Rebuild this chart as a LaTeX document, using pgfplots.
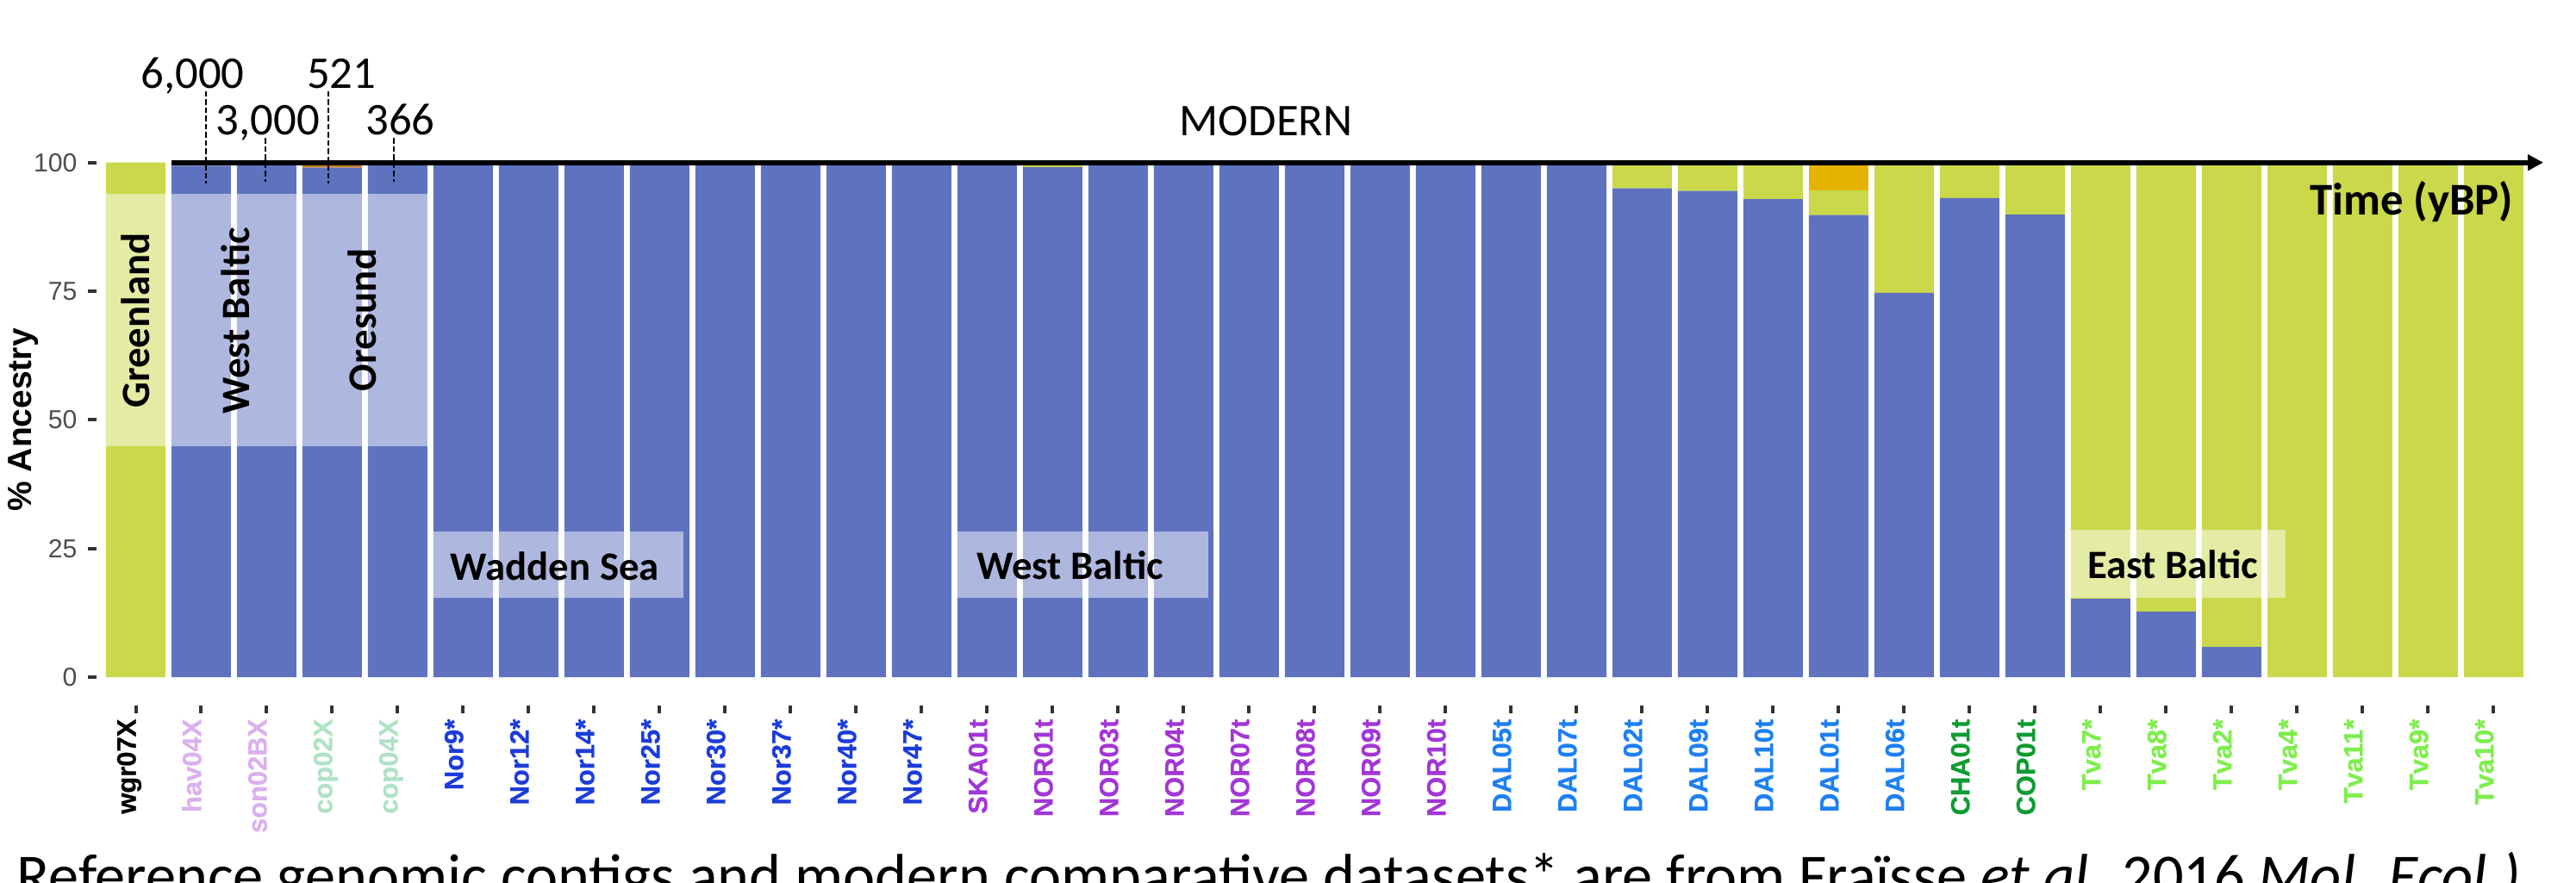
\documentclass[border=0pt]{standalone}
\usepackage{pgfplots}
\pgfplotsset{compat=1.18}
\usepackage{pgfplotstable}
\usetikzlibrary{arrows.meta}
\usepackage{fontspec}
\setmainfont{Carlito}
\newfontfamily\arialf{Liberation Sans}
\newfontfamily\xlabf{Liberation Sans}[UprightFont=* Bold, FakeBold=0.6]
\definecolor{cblue}{HTML}{5E72BF}
\definecolor{cyel}{HTML}{CAD84A}
\definecolor{cora}{HTML}{E6B400}
\definecolor{cbrn}{HTML}{C97E2C}
\definecolor{lpur}{HTML}{DAB0EE}
\definecolor{lgrn}{HTML}{B0E2C4}
\definecolor{nblue}{HTML}{1C3CD8}
\definecolor{npur}{HTML}{A236D6}
\definecolor{dblue}{HTML}{1E80F0}
\definecolor{dgrn}{HTML}{0E9C32}
\definecolor{tgrn}{HTML}{7EEE4C}
\definecolor{tickgray}{HTML}{333333}
\definecolor{labgray}{HTML}{4D4D4D}

\newcommand{\xl}[2]{\textcolor{#1}{#2}\hspace{0.7mm}{\color{tickgray}\rule[-0.2mm]{0.9mm}{0.4mm}}}

\pgfplotstableread{
x blue yel ora brn
0 0 100 0 0
1 99.4 0 0 0.6
2 100 0 0 0
3 99.0 0 0 1.0
4 100 0 0 0
5 100 0 0 0
6 100 0 0 0
7 100 0 0 0
8 100 0 0 0
9 100 0 0 0
10 100 0 0 0
11 100 0 0 0
12 100 0 0 0
13 100 0 0 0
14 99.1 0.9 0 0
15 100 0 0 0
16 100 0 0 0
17 100 0 0 0
18 100 0 0 0
19 100 0 0 0
20 100 0 0 0
21 100 0 0 0
22 100 0 0 0
23 95.0 5.0 0 0
24 94.5 5.5 0 0
25 92.9 7.1 0 0
26 89.8 4.8 5.4 0
27 74.7 25.3 0 0
28 93.1 6.9 0 0
29 89.9 10.1 0 0
30 15.2 84.8 0 0
31 12.75 87.25 0 0
32 5.9 94.1 0 0
33 0 100 0 0
34 0 100 0 0
35 0 100 0 0
36 0 100 0 0
}\anc

\pgfplotsset{geom/.style={
  at={(11.19mm,23.8mm)}, anchor=south west,
  scale only axis, width=282.7mm, height=59.73mm,
  xmin=-0.6, xmax=36.6, ymin=0, ymax=100, clip=false}}

\begin{document}
\begin{tikzpicture}
\begin{axis}[
  geom,
  ybar stacked, bar width=0.908,
  axis line style={draw=none},
  tick pos=left, tick align=outside,
  major tick length=1mm,
  tick style={tickgray, line width=0.4mm},
  xtick={0,...,36},
  xtick style={draw=none},
  xticklabels={
    \xl{black}{wgr07X},\xl{lpur}{hav04X},\xl{lpur}{son02BX},
    \xl{lgrn}{cop02X},\xl{lgrn}{cop04X},
    \xl{nblue}{Nor9*},\xl{nblue}{Nor12*},\xl{nblue}{Nor14*},\xl{nblue}{Nor25*},
    \xl{nblue}{Nor30*},\xl{nblue}{Nor37*},\xl{nblue}{Nor40*},\xl{nblue}{Nor47*},
    \xl{npur}{SKA01t},\xl{npur}{NOR01t},\xl{npur}{NOR03t},\xl{npur}{NOR04t},
    \xl{npur}{NOR07t},\xl{npur}{NOR08t},\xl{npur}{NOR09t},\xl{npur}{NOR10t},
    \xl{dblue}{DAL05t},\xl{dblue}{DAL07t},\xl{dblue}{DAL02t},\xl{dblue}{DAL09t},
    \xl{dblue}{DAL10t},\xl{dblue}{DAL01t},\xl{dblue}{DAL06t},
    \xl{dgrn}{CHA01t},\xl{dgrn}{COP01t},
    \xl{tgrn}{Tva7*},\xl{tgrn}{Tva8*},\xl{tgrn}{Tva2*},\xl{tgrn}{Tva4*},
    \xl{tgrn}{Tva11*},\xl{tgrn}{Tva9*},\xl{tgrn}{Tva10*}},
  xticklabel style={font=\xlabf\fontsize{8.8}{10}\selectfont, rotate=90, anchor=base east, inner sep=0pt},
  xticklabel shift=2.2mm,
  ytick={0,25,50,75,100},
  yticklabels={0,25,50,75,100},
  yticklabel style={font=\arialf\fontsize{8.6}{10}\selectfont, text=labgray},
]
\addplot[fill=cblue, draw=none] table[x=x,y=blue]{\anc};
\addplot[fill=cyel, draw=none] table[x=x,y=yel]{\anc};
\addplot[fill=cora, draw=none] table[x=x,y=ora]{\anc};
\addplot[fill=cbrn, draw=none] table[x=x,y=brn]{\anc};
\end{axis}

\begin{axis}[geom, hide axis]
\fill[white, fill opacity=0.5] (axis cs:-0.454,44.9) rectangle (axis cs:4.454,93.9);
\fill[white, fill opacity=0.5] (axis cs:4.546,15.35) rectangle (axis cs:8.36,28.3);
\fill[white, fill opacity=0.5] (axis cs:12.546,15.35) rectangle (axis cs:16.37,28.3);
\fill[white, fill opacity=0.5] (axis cs:29.546,15.35) rectangle (axis cs:32.82,28.6);

\node[rotate=90, font=\bfseries\fontsize{13.3}{16}\selectfont] at (axis cs:0,69.3) {Greenland};
\node[rotate=90, font=\bfseries\fontsize{13.3}{16}\selectfont] at (axis cs:1.52,69.3) {West Baltic};
\node[rotate=90, font=\bfseries\fontsize{13.3}{16}\selectfont] at (axis cs:3.46,69.4) {Oresund};
\node[font=\bfseries\fontsize{13.3}{16}\selectfont] at (axis cs:6.40,21.6) {Wadden Sea};
\node[font=\bfseries\fontsize{13.3}{16}\selectfont] at (axis cs:14.27,21.7) {West Baltic};
\node[font=\bfseries\fontsize{13.3}{16}\selectfont] at (axis cs:31.1,21.9) {East Baltic};

\draw[line width=1.7pt, -{Triangle[length=1.8mm,width=1.8mm]}] (axis cs:0.546,100) -- (axis cs:36.76,100);

\draw[dash pattern=on 0.65mm off 0.3mm, line width=0.55pt] (axis cs:1.07,113.9) -- (axis cs:1.07,96);
\draw[dash pattern=on 0.65mm off 0.3mm, line width=0.55pt] (axis cs:1.98,104.8) -- (axis cs:1.98,96.3);
\draw[dash pattern=on 0.65mm off 0.3mm, line width=0.55pt] (axis cs:2.94,113.9) -- (axis cs:2.94,96);
\draw[dash pattern=on 0.65mm off 0.3mm, line width=0.55pt] (axis cs:3.94,104.8) -- (axis cs:3.94,96.3);

\node[anchor=base, inner sep=0pt, font=\fontsize{15}{18}\selectfont] at (axis cs:0.87,114.5) {6,000};
\node[anchor=base, inner sep=0pt, font=\fontsize{15}{18}\selectfont] at (axis cs:2.02,105.4) {3,000};
\node[anchor=base, inner sep=0pt, font=\fontsize{15}{18}\selectfont] at (axis cs:3.14,114.5) {521};
\node[anchor=base, inner sep=0pt, font=\fontsize{15}{18}\selectfont] at (axis cs:4.04,105.4) {366};
\node[anchor=base, inner sep=0pt, font=\fontsize{15}{18}\selectfont] at (axis cs:17.26,105.3) {MODERN};
\node[anchor=base east, inner sep=0pt, font=\bfseries\fontsize{15}{18}\selectfont] at (axis cs:36.31,89.9) {Time (yBP)};

\node[rotate=90, font=\arialf\bfseries\fontsize{11.1}{13}\selectfont] at (axis cs:-1.717,50) {\% Ancestry};
\end{axis}
\node[anchor=base west, inner sep=0pt, font=\fontsize{20}{24}\selectfont] at (1.9mm,-1.6mm) {Reference genomic contigs and modern comparative datasets* are from Fraïsse \textit{et al.} 2016 \textit{Mol. Ecol.)}};
\pgfresetboundingbox
\useasboundingbox (0,0) rectangle (298.9mm,102.4mm);
\end{tikzpicture}
\end{document}
